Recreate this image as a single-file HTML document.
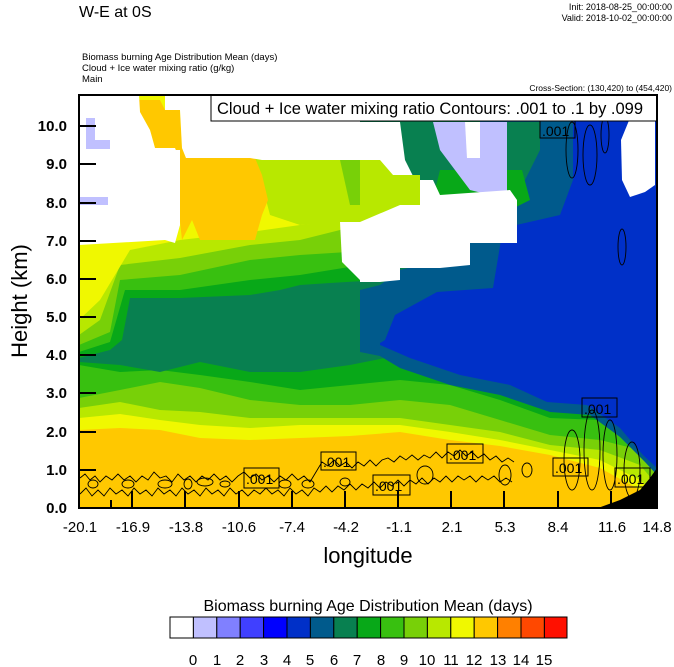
<!DOCTYPE html>
<html><head><meta charset="utf-8"><style>
html,body{margin:0;padding:0;background:#fff;}
svg{display:block;font-family:"Liberation Sans",Arial,sans-serif;}
</style></head><body>
<svg width="674" height="667" viewBox="0 0 674 667" xmlns="http://www.w3.org/2000/svg">
<text x="79" y="17" font-size="16">W-E at 0S</text>
<text x="672" y="10" font-size="9" text-anchor="end">Init: 2018-08-25_00:00:00</text>
<text x="672" y="21" font-size="9" text-anchor="end">Valid: 2018-10-02_00:00:00</text>
<text x="82" y="60" font-size="9.5">Biomass burning Age Distribution Mean    (days)</text>
<text x="82" y="71" font-size="9.5">Cloud + Ice water mixing ratio    (g/kg)</text>
<text x="82" y="82" font-size="9.5">Main</text>
<text x="672" y="91" font-size="8.5" text-anchor="end">Cross-Section: (130,420) to (454,420)</text>
<defs><clipPath id="pc"><rect x="79" y="95" width="578" height="413"/></clipPath></defs>
<g clip-path="url(#pc)">
<rect x="79" y="95" width="578" height="413" fill="#ffc800"/>
<path fill="#f0f800" d="M79,95 L79,430 120,428 160,430 200,438 250,440 300,438 350,436 400,432 450,440 500,446 550,455 600,468 640,490 657,500 L657,95Z"/>
<path fill="#b8e800" d="M79,95 L79,418 120,414 160,420 200,425 250,428 300,425 350,425 400,425 450,432 500,440 550,450 600,460 640,480 657,495 L657,95Z"/>
<path fill="#78d008" d="M79,95 L79,408 120,402 160,410 200,412 250,418 300,418 350,418 400,418 450,425 500,432 550,445 600,450 640,465 657,485 L657,95Z"/>
<path fill="#38c010" d="M79,95 L79,398 120,390 160,382 200,388 250,400 300,405 350,405 400,400 450,405 500,420 550,435 600,440 640,450 657,470 L657,95Z"/>
<path fill="#08a818" d="M79,95 L79,365 120,372 160,370 200,375 250,382 300,390 350,385 400,380 450,385 500,400 550,418 600,420 640,430 657,445 L657,95Z"/>
<path fill="#088050" d="M79,95 L79,362 120,365 160,372 200,362 250,372 300,372 350,365 400,355 450,362 500,380 550,400 600,405 640,420 657,430 L657,95Z"/>
<path fill="#005a8c" d="M360,95 L360,352 380,356 400,368 450,385 500,395 550,412 590,415 620,437 645,462 657,475 L657,95Z"/>
<path fill="#0030c8" d="M380,95 L380,345 410,358 460,375 510,385 547,402 587,405 620,428 643,455 657,468 L657,95Z"/>
<path fill="#08a818" d="M79,95 L79,358 110,350 122,340 130,298 180,298 250,295 280,290 300,285 330,283 380,280 400,282 400,95Z"/>
<path fill="#38c010" d="M79,95 L79,352 110,342 125,290 180,290 250,280 300,275 380,262 400,265 400,95Z"/>
<path fill="#78d008" d="M79,95 L79,345 110,332 120,280 180,275 250,260 300,255 380,250 400,250 400,95Z"/>
<path fill="#b8e800" d="M79,95 L79,335 100,320 120,265 180,258 250,245 300,240 340,230 400,220 400,95Z"/>
<path fill="#f0f800" d="M79,95 L79,320 100,300 130,250 180,240 250,232 300,225 400,215 400,95Z"/>
<path fill="#b8e800" d="M255,158 L379,158 400,160 400,222 340,222 300,225 270,215Z"/>
<path fill="#78d008" d="M340,160 L380,160 380,205 350,205Z"/>
<path fill="#ffc800" d="M139,100 L160,100 165,110 180,110 182,148 186,158 255,158 262,175 268,200 262,215 255,240 200,240 192,220 182,240 180,222 180,160 175,148 155,148 150,130 140,112Z"/>
<path fill="#fff" d="M79,95 L139,95 140,112 150,130 155,148 175,148 180,160 180,225 175,243 165,240 79,245Z"/>
<path fill="#fff" d="M165,95 L379,95 379,160 345,160 262,160 250,158 186,158 182,148 180,110 165,110Z"/>
<path fill="#fff" d="M159,150 L180,150 180,225 172,240 168,225 162,240 159,220Z"/>
<path fill="#fff" d="M340,222 L380,222 380,282 362,282 342,262Z"/>
<rect x="86" y="118" width="9" height="22" fill="#c0c0ff"/>
<rect x="86" y="140" width="24" height="9" fill="#c0c0ff"/>
<rect x="79" y="197" width="29" height="8" fill="#c0c0ff"/>
<path fill="#005a8c" d="M360,95 L573,95 573,180 560,215 547,218 503,228 493,288 437,292 395,315 385,340 372,348 360,340Z"/>
<path fill="#088050" d="M360,95 L540,95 540,150 520,190 500,215 470,240 440,248 420,265 400,270 380,285 360,290Z"/>
<path fill="#08a818" d="M440,170 L522,170 530,200 510,210 490,220 470,235 445,240 430,210Z"/>
<path fill="#c0c0ff" d="M433,122 L507,122 507,195 490,195 470,190 455,170 440,150Z"/>
<path fill="#005a8c" d="M480,95 L540,95 540,122 480,122Z"/>
<path fill="#fff" d="M360,122 L400,122 405,160 415,180 433,180 440,195 510,190 517,200 517,243 470,243 470,265 440,268 400,268 400,280 380,282 360,282Z"/>
<path fill="#fff" d="M465,122 L480,122 480,158 467,158Z"/>
<path fill="#b8e800" d="M360,160 L380,160 393,175 420,175 420,205 400,205 360,222Z"/>
<path fill="#fff" d="M621,140 L630,118 655,118 655,185 645,192 630,197 622,180Z"/>
<path fill="#000" d="M598,508 L620,500 640,490 650,478 657,468 L657,508Z"/>
<g fill="none" stroke="#000" stroke-width="0.9">
<polyline points="80,478 85,474 90,480 95,476 100,482 106,476 112,480 118,474 124,480 130,476 136,482 142,476 148,480 154,472 160,478 166,476 172,482 178,474 184,480 190,476 196,482 202,476 208,480 214,474 220,480 226,476 232,482 238,476 244,472 250,478 256,474 262,480 268,476 274,482 280,476 286,480 292,474 298,480 304,476 310,482 316,472 322,462 328,466 334,460 340,466 346,462 352,468 358,462 364,466 370,460 376,466 382,460 388,458 394,462 400,456 406,460 412,455 418,460 424,455 430,458 436,452 442,458 448,452 454,456 460,450 466,456 472,452 478,458 484,454 490,460 496,456 502,462 508,458 514,462"/>
<polyline points="80,494 86,488 92,496 98,490 104,496 110,488 116,494 122,490 128,496 134,488 140,494 146,490 152,496 158,488 164,494 170,490 176,496 182,488 188,494 194,490 200,496 206,488 212,494 218,490 224,496 230,488 236,494 242,490 248,496 254,490 260,494 266,488 272,494 278,490 284,496 290,488 296,494 302,490 308,496 314,488 320,492 326,486 332,492 338,486 344,490 350,484 356,490 362,484 368,488 374,482 380,488 386,482 392,486 398,480 404,486 410,480 416,484 422,478 428,484 434,478 440,482 446,476 452,482 458,476 464,480 470,476 476,482 482,476 488,480 494,476 500,482 506,478 512,482"/>
<ellipse cx="128" cy="484" rx="6" ry="4"/><ellipse cx="165" cy="484" rx="7" ry="4"/><ellipse cx="205" cy="482" rx="8" ry="4"/>
<ellipse cx="285" cy="484" rx="6" ry="4"/><ellipse cx="308" cy="484" rx="6" ry="4"/><ellipse cx="225" cy="484" rx="5" ry="3"/>
<ellipse cx="93" cy="484" rx="5" ry="4"/><ellipse cx="188" cy="484" rx="4" ry="5"/><ellipse cx="345" cy="482" rx="5" ry="4"/>
<ellipse cx="505" cy="475" rx="6" ry="10"/><ellipse cx="527" cy="470" rx="5" ry="7"/><ellipse cx="425" cy="475" rx="8" ry="9"/>
<ellipse cx="572" cy="460" rx="8" ry="30"/><ellipse cx="592" cy="450" rx="8" ry="40"/><ellipse cx="610" cy="455" rx="7" ry="35"/><ellipse cx="632" cy="470" rx="8" ry="28"/>
<ellipse cx="622" cy="247" rx="4" ry="18"/>
<ellipse cx="572" cy="150" rx="6" ry="28"/><ellipse cx="590" cy="155" rx="7" ry="30"/><ellipse cx="605" cy="135" rx="4" ry="18"/>
</g>
<g font-size="14" fill="#000">
<rect x="244" y="468" width="35" height="20" fill="none" stroke="#000"/><text x="246" y="484">.001</text>
<rect x="321" y="452" width="35" height="18" fill="none" stroke="#000"/><text x="323" y="467">.001</text>
<rect x="373" y="475" width="37" height="20" fill="none" stroke="#000"/><text x="375" y="491">.001</text>
<rect x="447" y="444" width="36" height="19" fill="none" stroke="#000"/><text x="449" y="460">.001</text>
<rect x="553" y="458" width="35" height="18" fill="none" stroke="#000"/><text x="555" y="473">.001</text>
<rect x="615" y="468" width="35" height="19" fill="none" stroke="#000"/><text x="617" y="484">.001</text>
<rect x="582" y="398" width="35" height="19" fill="none" stroke="#000"/><text x="584" y="414">.001</text>
<rect x="540" y="121" width="35" height="17" fill="none" stroke="#000"/><text x="542" y="136">.001</text>
</g>
</g>
<rect x="211" y="95" width="446" height="26" fill="#fff" stroke="#000" stroke-width="1"/>
<text x="217" y="114" font-size="16.5">Cloud + Ice water mixing ratio Contours: .001 to .1 by .099</text>
<rect x="79" y="95" width="578" height="413" fill="none" stroke="#000" stroke-width="2"/>
<g stroke="#000" stroke-width="2">
<line x1="79" y1="508" x2="96" y2="508"/><line x1="79" y1="470" x2="96" y2="470"/><line x1="79" y1="432" x2="96" y2="432"/>
<line x1="79" y1="393" x2="96" y2="393"/><line x1="79" y1="355" x2="96" y2="355"/><line x1="79" y1="317" x2="96" y2="317"/>
<line x1="79" y1="279" x2="96" y2="279"/><line x1="79" y1="241" x2="96" y2="241"/><line x1="79" y1="203" x2="96" y2="203"/>
<line x1="79" y1="164" x2="96" y2="164"/><line x1="79" y1="126" x2="96" y2="126"/>
<line x1="132" y1="508" x2="132" y2="491"/><line x1="185" y1="508" x2="185" y2="491"/><line x1="239" y1="508" x2="239" y2="491"/>
<line x1="292" y1="508" x2="292" y2="491"/><line x1="345" y1="508" x2="345" y2="491"/><line x1="398" y1="508" x2="398" y2="491"/>
<line x1="451" y1="508" x2="451" y2="491"/><line x1="504" y1="508" x2="504" y2="491"/><line x1="558" y1="508" x2="558" y2="491"/>
<line x1="611" y1="508" x2="611" y2="491"/><line x1="111" y1="508" x2="111" y2="500"/>
</g>
<g font-size="15" text-anchor="end" font-weight="bold">
<text x="67" y="513">0.0</text><text x="67" y="475">1.0</text><text x="67" y="437">2.0</text><text x="67" y="398">3.0</text>
<text x="67" y="360">4.0</text><text x="67" y="322">5.0</text><text x="67" y="284">6.0</text><text x="67" y="246">7.0</text>
<text x="67" y="208">8.0</text><text x="67" y="169">9.0</text><text x="67" y="131">10.0</text>
</g>
<g font-size="15" text-anchor="middle">
<text x="80" y="532">-20.1</text><text x="133" y="532">-16.9</text><text x="186" y="532">-13.8</text><text x="239" y="532">-10.6</text>
<text x="292" y="532">-7.4</text><text x="346" y="532">-4.2</text><text x="399" y="532">-1.1</text><text x="452" y="532">2.1</text>
<text x="505" y="532">5.3</text><text x="558" y="532">8.4</text><text x="612" y="532">11.6</text><text x="657" y="532">14.8</text>
</g>
<text x="368" y="563" font-size="22" text-anchor="middle">longitude</text>
<text transform="translate(27,301) rotate(-90)" font-size="22" text-anchor="middle">Height (km)</text>
<text x="368" y="611" font-size="16" text-anchor="middle">Biomass burning Age Distribution Mean  (days)</text>
<g stroke="#000" stroke-width="1">
<rect x="170" y="617" width="23.4" height="21" fill="#ffffff"/>
<rect x="193.4" y="617" width="23.4" height="21" fill="#c0c0ff"/>
<rect x="216.8" y="617" width="23.4" height="21" fill="#8080ff"/>
<rect x="240.2" y="617" width="23.4" height="21" fill="#4040ff"/>
<rect x="263.6" y="617" width="23.4" height="21" fill="#0000ff"/>
<rect x="287" y="617" width="23.4" height="21" fill="#0030c8"/>
<rect x="310.4" y="617" width="23.4" height="21" fill="#005a8c"/>
<rect x="333.8" y="617" width="23.4" height="21" fill="#088050"/>
<rect x="357.2" y="617" width="23.4" height="21" fill="#08a818"/>
<rect x="380.6" y="617" width="23.4" height="21" fill="#38c010"/>
<rect x="404" y="617" width="23.4" height="21" fill="#78d008"/>
<rect x="427.4" y="617" width="23.4" height="21" fill="#b8e800"/>
<rect x="450.8" y="617" width="23.4" height="21" fill="#f0f800"/>
<rect x="474.2" y="617" width="23.4" height="21" fill="#ffc800"/>
<rect x="497.6" y="617" width="23.4" height="21" fill="#ff8000"/>
<rect x="521" y="617" width="23.4" height="21" fill="#ff4800"/>
<rect x="544.4" y="617" width="22.6" height="21" fill="#ff1000"/>
</g>
<g font-size="15" text-anchor="middle">
<text x="193" y="665">0</text><text x="217" y="665">1</text><text x="240" y="665">2</text><text x="264" y="665">3</text>
<text x="287" y="665">4</text><text x="310" y="665">5</text><text x="334" y="665">6</text><text x="357" y="665">7</text>
<text x="381" y="665">8</text><text x="404" y="665">9</text><text x="427" y="665">10</text><text x="451" y="665">11</text>
<text x="474" y="665">12</text><text x="498" y="665">13</text><text x="521" y="665">14</text><text x="544" y="665">15</text>
</g>
</svg>
</body></html>
